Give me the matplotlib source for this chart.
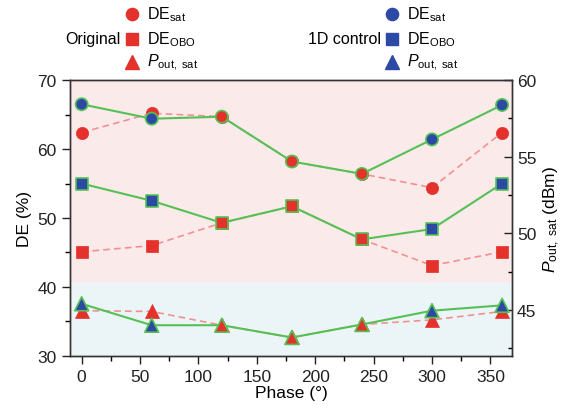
import numpy as np
import matplotlib.pyplot as plt
from matplotlib.lines import Line2D
from matplotlib.ticker import MultipleLocator

plt.rcParams['font.family'] = ['Liberation Sans', 'DejaVu Sans']
plt.rcParams['mathtext.fontset'] = 'custom'
plt.rcParams['mathtext.rm'] = 'Liberation Sans'
plt.rcParams['mathtext.it'] = 'Liberation Sans:italic'

# phase sweep (deg)
phase = [0, 60, 120, 180, 240, 300, 360]

# drain efficiency (%) - original vs 1D control
orig_de_sat = [62.4, 65.2, 64.7, 58.2, 56.4, 54.4, 62.4]
ctrl_de_sat = [66.5, 64.4, 64.7, 58.2, 56.4, 61.4, 66.4]
orig_de_obo = [45.1, 46.0, 49.3, 51.7, 46.9, 43.1, 45.1]
ctrl_de_obo = [55.0, 52.5, 49.3, 51.7, 46.9, 48.4, 55.0]

# saturated output power (dBm)
orig_pout = [44.95, 44.9, 44.0, 43.2, 44.05, 44.35, 44.9]
ctrl_pout = [45.4, 44.0, 44.0, 43.2, 44.05, 44.95, 45.3]

red = '#e4312b'
blue = '#2c49a6'
green = '#55c155'
pink = '#f2918f'

fig = plt.figure(figsize=(5.69, 4.14), dpi=100)
ax = fig.add_axes([0.123, 0.138, 0.777, 0.666])
ax2 = ax.twinx()

# shaded regions: DE part (top) and Pout part (bottom)
ax.axhspan(40.5, 70, color='#faeaea', lw=0, zorder=0)
ax.axhspan(30, 40.5, color='#ebf4f6', lw=0, zorder=0)

def draw_series(a, orig, ctrl, marker, ms):
    a.plot(phase, orig, ls=(0, (4, 2.5)), color=pink, lw=1.2,
           marker=marker, ms=ms, mfc=red, mec=red, mew=0.5, zorder=3)
    a.plot(phase, ctrl, color=green, lw=1.5, zorder=4)
    # unchanged points keep the original colour
    faces = [red if o == c else blue for o, c in zip(orig, ctrl)]
    a.scatter(phase, ctrl, s=ms ** 2, marker=marker, c=faces,
              edgecolors=green, linewidths=1.2, zorder=5)

draw_series(ax, orig_de_sat, ctrl_de_sat, 'o', 8.8)
draw_series(ax, orig_de_obo, ctrl_de_obo, 's', 8.6)
draw_series(ax2, orig_pout, ctrl_pout, '^', 10)

ax.set_xlim(-10, 368.6)
ax.set_ylim(30, 70)
ax2.set_ylim(42, 60)

ax.xaxis.set_major_locator(MultipleLocator(50))
ax.xaxis.set_minor_locator(MultipleLocator(25))
ax.yaxis.set_major_locator(MultipleLocator(10))
ax.yaxis.set_minor_locator(MultipleLocator(5))
ax2.yaxis.set_major_locator(MultipleLocator(5))
ax2.yaxis.set_minor_locator(MultipleLocator(2.5))

ax.tick_params(axis='both', which='major', direction='out', length=6,
               width=1, labelsize=12.5, colors='#222222')
ax.tick_params(axis='both', which='minor', direction='out', length=3.5, width=1)
ax2.tick_params(which='major', direction='in', length=6, width=1,
                labelsize=12.5, colors='#222222')
ax2.tick_params(which='minor', direction='in', length=3, width=1)
for a in (ax, ax2):
    for sp in a.spines.values():
        sp.set_color('#333333')
        sp.set_linewidth(1)

ax.set_xlabel('Phase (°)', fontsize=12.5, labelpad=1)
ax.set_ylabel('DE (%)', fontsize=12.5, labelpad=4)
ax2.set_ylabel(r'$\it{P}_{\rm out,\ sat}$ (dBm)', fontsize=12.5, labelpad=4)

# marker keys above the plot
def key_block(x_marker, title, color):
    rows = [('o', 8.8, r'DE$_{\rm sat}$'), ('s', 8.6, r'DE$_{\rm OBO}$'),
            ('^', 10, r'$\it{P}_{\rm out,\ sat}$')]
    ys = [1 - 15 / 414, 1 - 39.5 / 414, 1 - 62.5 / 414]
    for (m, size, lab), y in zip(rows, ys):
        fig.add_artist(Line2D([x_marker], [y], marker=m, ms=size, color=color,
                              mec=color, ls='none', transform=fig.transFigure))
        fig.text(x_marker + 15 / 569, y, lab, fontsize=11.5, va='center',
                 ha='left')
    fig.text(x_marker - 11 / 569, ys[1], title, fontsize=11.5, va='center',
             ha='right')

key_block(131.7 / 569, 'Original', red)
key_block(391.7 / 569, '1D control', blue)

fig.savefig('out.png', dpi=100)
